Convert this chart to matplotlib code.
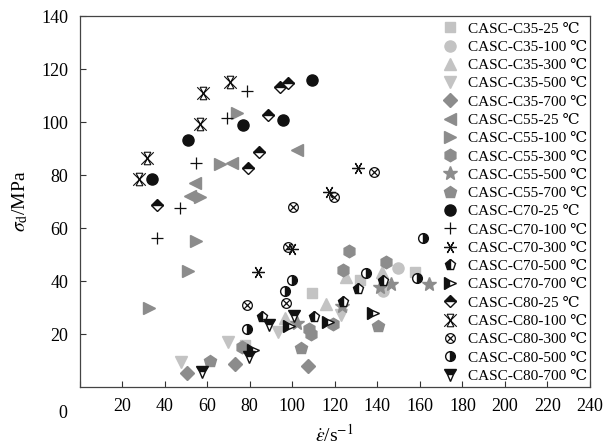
import numpy as np
import matplotlib
matplotlib.use("Agg")
import matplotlib.pyplot as plt
from matplotlib.path import Path

plt.rcParams["font.family"] = ["Liberation Serif", "DejaVu Serif", "DejaVu Sans"]
plt.rcParams["mathtext.fontset"] = "stix"

# strain rate (1/s) and dynamic strength (MPa) for each series
c35_25_x = [109.5, 131.9, 157.7, 77.8]
c35_25_y = [35.4, 40.4, 43.5, 15.8]
c35_100_x = [149.9, 142.8]
c35_100_y = [44.8, 36.4]
c35_300_x = [125.3, 142.1, 115.9, 96.6]
c35_300_y = [41.4, 43.5, 31.3, 25.9]
c35_500_x = [47.6, 70.0, 93.5, 122.8]
c35_500_y = [9.5, 17.1, 20.9, 27.2]
c35_700_x = [50.4, 73.1, 107.6]
c35_700_y = [5.2, 8.7, 8.0]

c55_25_x = [102.4, 71.5, 54.3, 52.0]
c55_25_y = [89.4, 84.4, 76.9, 72.1]
c55_100_x = [73.9, 66.1, 56.7, 54.8, 51.2, 32.8]
c55_100_y = [103.5, 84.2, 71.8, 55.2, 43.8, 29.7]
c55_300_x = [126.7, 123.7, 144.0, 76.2, 108.0, 108.8, 119.0]
c55_300_y = [51.4, 44.2, 47.3, 15.2, 22.1, 19.9, 23.7]
c55_500_x = [141.3, 146.3, 123.3, 102.4, 164.5]
c55_500_y = [37.6, 38.9, 30.6, 24.3, 38.8]
c55_700_x = [61.4, 104.0, 140.5]
c55_700_y = [9.8, 14.6, 23.0]

c70_25_x = [109.2, 95.8, 77.0, 51.2, 33.9]
c70_25_y = [115.8, 100.8, 98.9, 93.2, 78.7]
c70_100_x = [78.9, 69.5, 54.8, 47.2, 36.6]
c70_100_y = [111.8, 101.4, 84.4, 67.4, 56.1]
c70_300_x = [131.1, 117.5, 100.0, 84.1]
c70_300_y = [82.5, 73.7, 52.3, 43.3]
c70_500_x = [85.6, 110.4, 124.0, 130.8, 142.8]
c70_500_y = [26.3, 26.5, 32.0, 36.9, 40.1]
c70_700_x = [81.4, 98.6, 116.7, 137.8]
c70_700_y = [14.0, 23.0, 24.6, 27.8]

c80_25_x = [98.2, 94.3, 88.8, 84.4, 79.4, 36.3]
c80_25_y = [114.8, 113.1, 102.6, 88.8, 82.5, 68.7]
c80_100_x = [70.8, 58.2, 56.6, 31.6, 28.0]
c80_100_y = [115.2, 111.0, 99.2, 86.3, 78.5]
c80_300_x = [138.5, 119.7, 100.5, 97.9, 78.6, 96.9]
c80_300_y = [81.3, 71.8, 68.0, 52.7, 30.9, 31.6]
c80_500_x = [99.8, 96.8, 78.6, 134.7, 161.6, 158.5]
c80_500_y = [40.4, 36.2, 22.1, 43.2, 56.1, 41.0]
c80_700_x = [57.4, 79.8, 89.2, 100.8]
c80_700_y = [5.8, 11.4, 23.4, 26.8]

x_ticks = list(range(0, 241, 20))
y_ticks = list(range(20, 141, 20))


def line_path(segments):
    verts, codes = [], []
    for a, b in segments:
        verts += [a, b]
        codes += [Path.MOVETO, Path.LINETO]
    return Path(verts, codes)


# X with an hourglass outline
bowtie_x = line_path([((-1, -1), (1, 1)), ((-1, 1), (1, -1)),
                      ((-0.55, 1), (0.55, 1)), ((-0.55, -1), (0.55, -1)),
                      ((-0.55, 1), (0.55, -1)), ((0.55, 1), (-0.55, -1))])
# circle with X inside
circ = Path.unit_circle()
r = 0.7
circle_x = Path.make_compound_path(
    circ, line_path([((-r, -r), (r, r)), ((-r, r), (r, -r))]))

light = "#c3c3c3"
mid = "#8c8c8c"
black = "#111111"

series = [
    ("CASC-C35-25 ℃", c35_25_x, c35_25_y, dict(marker="s", color=light, ms=7)),
    ("CASC-C35-100 ℃", c35_100_x, c35_100_y, dict(marker="o", color=light, ms=8)),
    ("CASC-C35-300 ℃", c35_300_x, c35_300_y, dict(marker="^", color=light, ms=9)),
    ("CASC-C35-500 ℃", c35_500_x, c35_500_y, dict(marker="v", color=light, ms=9)),
    ("CASC-C35-700 ℃", c35_700_x, c35_700_y, dict(marker="D", color=mid, ms=7)),
    ("CASC-C55-25 ℃", c55_25_x, c55_25_y, dict(marker="<", color=mid, ms=9)),
    ("CASC-C55-100 ℃", c55_100_x, c55_100_y, dict(marker=">", color=mid, ms=9)),
    ("CASC-C55-300 ℃", c55_300_x, c55_300_y, dict(marker="h", color=mid, ms=9)),
    ("CASC-C55-500 ℃", c55_500_x, c55_500_y, dict(marker="*", color=mid, ms=10)),
    ("CASC-C55-700 ℃", c55_700_x, c55_700_y, dict(marker="p", color=mid, ms=9)),
    ("CASC-C70-25 ℃", c70_25_x, c70_25_y, dict(marker="o", color=black, ms=8)),
    ("CASC-C70-100 ℃", c70_100_x, c70_100_y,
     dict(marker="+", color=black, ms=8, mew=0.9)),
    ("CASC-C70-300 ℃", c70_300_x, c70_300_y,
     dict(marker=(6, 2, 90), color=black, ms=9, mew=0.9)),
    ("CASC-C70-500 ℃", c70_500_x, c70_500_y,
     dict(marker="p", fillstyle="left", mfc=black, mfcalt="white",
          mec=black, ms=8, mew=1.0)),
    ("CASC-C70-700 ℃", c70_700_x, c70_700_y,
     dict(marker=">", fillstyle="left", mfc=black, mfcalt="white",
          mec=black, ms=8, mew=1.0)),
    ("CASC-C80-25 ℃", c80_25_x, c80_25_y,
     dict(marker="D", fillstyle="top", mfc=black, mfcalt="white",
          mec=black, ms=6.5, mew=1.0)),
    ("CASC-C80-100 ℃", c80_100_x, c80_100_y,
     dict(marker=bowtie_x, mfc="none", mec=black, ms=9, mew=0.8)),
    ("CASC-C80-300 ℃", c80_300_x, c80_300_y,
     dict(marker=circle_x, mfc="none", mec=black, ms=7, mew=0.9)),
    ("CASC-C80-500 ℃", c80_500_x, c80_500_y,
     dict(marker="o", fillstyle="right", mfc=black, mfcalt="white",
          mec=black, ms=7, mew=1.0)),
    ("CASC-C80-700 ℃", c80_700_x, c80_700_y,
     dict(marker="v", fillstyle="top", mfc=black, mfcalt="white",
          mec=black, ms=8, mew=1.0)),
]

fig = plt.figure(figsize=(6.07, 4.47), dpi=100)
ax = fig.add_axes([0.131, 0.134, 0.841, 0.830])

for label, xs, ys, style in series:
    ax.plot(xs, ys, linestyle="none", label=label, **style)

ax.set_xlim(0, 240)
ax.set_ylim(0, 140)
ax.set_xticks(x_ticks)
ax.set_xticklabels([""] + [str(v) for v in x_ticks[1:]])
ax.set_yticks(y_ticks)
ax.tick_params(direction="in", length=4, width=0.8, colors="#333333",
               labelsize=13, labelcolor="black", pad=8)
for sp in ax.spines.values():
    sp.set_color("#444444")
    sp.set_linewidth(0.9)

ax.text(-0.032, -0.072, "0", transform=ax.transAxes, fontsize=13,
        ha="center", va="center")

ax.set_xlabel(r"$\dot{\varepsilon}$/s$^{-1}$", fontsize=14, labelpad=6)
ax.set_ylabel(r"$\sigma_{\rm d}$/MPa", fontsize=14, labelpad=8)

ax.legend(loc="upper left", bbox_to_anchor=(0.728, 0.951),
          bbox_transform=fig.transFigure, frameon=False, fontsize=11,
          handlelength=1.0, handletextpad=0.7, labelspacing=0.30,
          borderpad=0, borderaxespad=0, numpoints=1)

fig.savefig("out.png", dpi=100)
